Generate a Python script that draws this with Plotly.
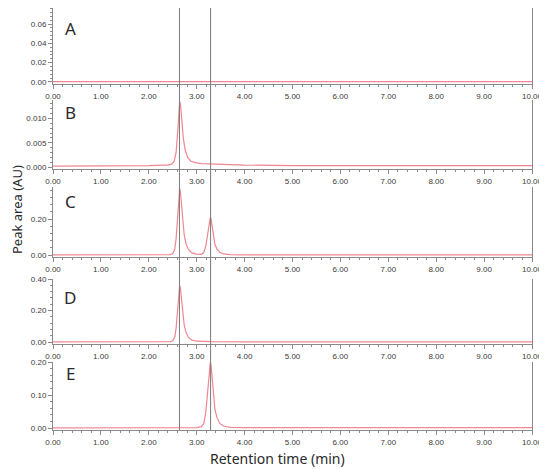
import plotly.graph_objects as go

# Reference canvas is 547x469; the page body adds an 8px offset, so the figure
# is drawn 8px smaller and every reference pixel position is shifted by OFF.
REF_W, REF_H = 547, 469
OFF = 8
W, H = REF_W - OFF, REF_H - OFF


def px_x(p):
    return (p - OFF) / W


def px_y(p):
    return 1 - (p - OFF) / H


panel_labels = ["A", "B", "C", "D", "E"]
x_tick_vals = [0, 1, 2, 3, 4, 5, 6, 7, 8, 9, 10]
marker_lines = [2.64, 3.29]

# Panel A: flat baseline
a_x = [0.0, 1.0, 2.0, 3.0, 4.0, 5.0, 6.0, 7.0, 8.0, 9.0, 10.0]
a_y = [0.0003, 0.0003, 0.0003, 0.0003, 0.0003, 0.0003, 0.0003, 0.0003, 0.0003, 0.0003, 0.0003]

# Panel B: small peak at 2.65
b_x = [0.0, 0.5, 1.0, 1.5, 2.0, 2.3, 2.40, 2.48, 2.53, 2.57, 2.60, 2.62, 2.635, 2.65, 2.665,
       2.69, 2.72, 2.76, 2.81, 2.88, 2.97, 3.1, 3.3, 3.6, 4.0, 5.0, 6.0, 7.0, 8.0, 9.0, 10.0]
b_y = [0.0002, 0.0002, 0.0002, 0.0003, 0.0003, 0.0004, 0.0004, 0.0006, 0.0012, 0.0030, 0.0060,
       0.0095, 0.0122, 0.0134, 0.0125, 0.0095, 0.0060, 0.0035, 0.0020, 0.0012, 0.0009, 0.0007,
       0.0006, 0.0005, 0.0004, 0.0003, 0.0003, 0.0003, 0.0003, 0.0003, 0.0003]

# Panel C: two peaks
c_x = [0.0, 2.3, 2.45, 2.50, 2.54, 2.57, 2.59, 2.61, 2.63, 2.645, 2.66, 2.68, 2.71, 2.74, 2.78,
       2.83, 2.9, 3.0, 3.10, 3.15, 3.19, 3.22, 3.25, 3.27, 3.285, 3.30, 3.32, 3.35, 3.38, 3.42,
       3.48, 3.56, 3.7, 4.0, 10.0]
c_y = [0.001, 0.001, 0.002, 0.008, 0.03, 0.09, 0.17, 0.26, 0.34, 0.37, 0.35, 0.28, 0.18, 0.11,
       0.06, 0.03, 0.012, 0.005, 0.004, 0.015, 0.05, 0.10, 0.16, 0.20, 0.21, 0.20, 0.16, 0.10,
       0.06, 0.035, 0.015, 0.006, 0.002, 0.001, 0.001]

# Panel D: one peak at 2.645
d_x = [0.0, 2.3, 2.45, 2.50, 2.54, 2.57, 2.59, 2.61, 2.63, 2.645, 2.66, 2.68, 2.71, 2.74, 2.78,
       2.83, 2.9, 3.0, 3.3, 4.0, 10.0]
d_y = [0.001, 0.001, 0.002, 0.008, 0.03, 0.088, 0.165, 0.25, 0.33, 0.36, 0.34, 0.27, 0.175,
       0.105, 0.058, 0.029, 0.012, 0.005, 0.002, 0.001, 0.001]

# Panel E: one peak at 3.285
e_x = [0.0, 2.9, 3.0, 3.10, 3.15, 3.19, 3.22, 3.25, 3.27, 3.285, 3.30, 3.32, 3.35, 3.38, 3.42,
       3.48, 3.56, 3.7, 4.0, 10.0]
e_y = [0.0005, 0.001, 0.001, 0.004, 0.014, 0.048, 0.095, 0.152, 0.19, 0.20, 0.19, 0.152, 0.095,
       0.057, 0.033, 0.014, 0.006, 0.002, 0.001, 0.001]

series_x = [a_x, b_x, c_x, d_x, e_x]
series_y = [a_y, b_y, c_y, d_y, e_y]

y_ranges = [[-0.0021, 0.0766], [-0.0004, 0.0138], [-0.011, 0.378], [-0.0127, 0.40], [-0.006, 0.20]]
y_dticks = [0.02, 0.005, 0.2, 0.2, 0.1]
y_minor = [0.004, 0.001, 0.04, 0.04, 0.02]
y_formats = [".2f", ".3f", ".2f", ".2f", ".2f"]
# panel pixel extents in the reference (top, bottom)
px_extents = [(8, 84), (100, 169), (187, 257), (279, 344), (362, 430)]
letter_px = [(70, 28), (70, 113), (70, 201), (70, 297), (70, 373)]

LINE_COLOR = "#ef8790"
AXIS_COLOR = "#8a8a8a"
TICK_FONT = dict(family="Liberation Sans, Arial, sans-serif", size=8, color="#3a3a3a")

x_domain = [px_x(53), px_x(532)]

fig = go.Figure()
layout = dict(
    width=W, height=H,
    margin=dict(l=0, r=0, t=0, b=0, autoexpand=False),
    paper_bgcolor="white", plot_bgcolor="white",
    showlegend=False,
)

annotations = []
for i in range(5):
    n = "" if i == 0 else str(i + 1)
    top, bot = px_extents[i]
    fig.add_trace(go.Scatter(
        x=series_x[i], y=series_y[i], mode="lines",
        line=dict(color=LINE_COLOR, width=1.2),
        xaxis="x" + n, yaxis="y" + n, hoverinfo="skip",
    ))
    layout["xaxis" + n] = dict(
        domain=x_domain, anchor="y" + n, range=[0, 10], automargin=False,
        tickvals=x_tick_vals, tickformat=".2f",
        showline=True, linecolor=AXIS_COLOR, linewidth=1,
        showgrid=False, zeroline=False,
        ticks="outside", ticklen=4, tickcolor=AXIS_COLOR, tickwidth=1,
        minor=dict(dtick=0.2, ticks="outside", ticklen=2, tickcolor=AXIS_COLOR, showgrid=False),
        tickfont=TICK_FONT,
    )
    layout["yaxis" + n] = dict(
        domain=[px_y(bot), px_y(top)], anchor="x" + n, range=y_ranges[i], automargin=False,
        dtick=y_dticks[i], tick0=0, tickformat=y_formats[i],
        showline=True, mirror=True, linecolor=AXIS_COLOR, linewidth=1,
        showgrid=False, zeroline=False,
        ticks="outside", ticklen=4, tickcolor=AXIS_COLOR, tickwidth=1,
        minor=dict(dtick=y_minor[i], tick0=0, ticks="outside", ticklen=2,
                   tickcolor=AXIS_COLOR, showgrid=False),
        tickfont=TICK_FONT,
    )
    lx, ly = letter_px[i]
    annotations.append(dict(
        text=panel_labels[i], x=px_x(lx), y=px_y(ly), xref="paper", yref="paper",
        showarrow=False, xanchor="center", yanchor="middle",
        font=dict(family="Noto Sans, sans-serif", size=17, color="#2a2a2a"),
    ))

annotations.append(dict(
    text="Retention time (min)", x=px_x(277), y=px_y(458), xref="paper", yref="paper",
    showarrow=False, xanchor="center", yanchor="middle",
    font=dict(family="Noto Sans, sans-serif", size=14, color="#2a2a2a"),
))
annotations.append(dict(
    text="Peak area (AU)", x=px_x(17), y=px_y(210), xref="paper", yref="paper",
    showarrow=False, xanchor="center", yanchor="middle", textangle=-90,
    font=dict(family="Noto Sans, sans-serif", size=13, color="#2a2a2a"),
))

shapes = []
for xv in marker_lines:
    shapes.append(dict(
        type="line", xref="x", yref="paper", x0=xv, x1=xv,
        y0=px_y(430), y1=1.0,
        line=dict(color="#7a7a7a", width=1),
    ))

layout["annotations"] = annotations
layout["shapes"] = shapes
fig.update_layout(**layout)
fig.write_html("out.html")
